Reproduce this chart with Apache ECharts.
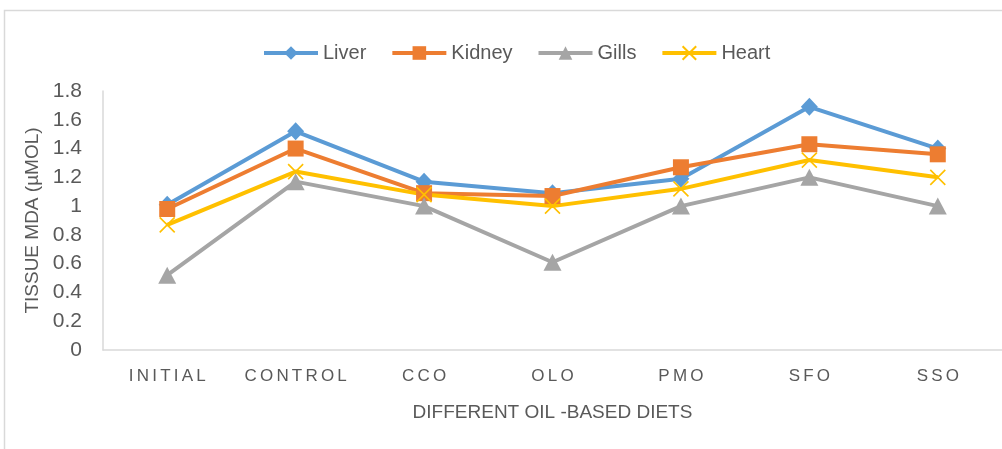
<!DOCTYPE html>
<html>
<head>
<meta charset="utf-8">
<script src="https://cdn.jsdelivr.net/npm/echarts@6/dist/echarts.min.js"></script>
<style>
html,body{margin:0;padding:0;background:#fff;}
#chart{width:1002px;height:449px;}
</style>
</head>
<body>
<div id="chart"></div>
<script>
const categories = ['INITIAL', 'CONTROL', 'CCO', 'OLO', 'PMO', 'SFO', 'SSO'];
const liver  = [1.01, 1.52, 1.17, 1.09, 1.19, 1.69, 1.40];
const kidney = [0.98, 1.40, 1.09, 1.07, 1.27, 1.43, 1.36];
const gills  = [0.52, 1.17, 1.00, 0.61, 1.00, 1.20, 1.00];
const heart  = [0.87, 1.24, 1.08, 1.00, 1.12, 1.32, 1.20];
const yTicks = { min: 0, max: 1.8, interval: 0.2 };

const font = 'Liberation Sans';
const grey = '#595959';

function letterSpaced(v) {
  return v.split('').map(c => '{c|' + c + '}').join('');
}

const chart = echarts.init(document.getElementById('chart'));
const mk = (name, data, color, symbol, size, extra) => Object.assign({
  name, type: 'line', data,
  symbol, symbolSize: size,
  lineStyle: { color, width: 4 },
  itemStyle: { color },
  emphasis: { disabled: true },
  animation: false
}, extra || {});

chart.setOption({
  animation: false,
  graphic: [{
    type: 'rect', silent: true,
    shape: { x: 4.5, y: 10.5, width: 1100, height: 600 },
    style: { fill: 'none', stroke: '#d9d9d9', lineWidth: 1.5 }
  }],
  legend: {
    top: 38, left: 257,
    itemWidth: 54, itemHeight: 17, itemGap: 24,
    lineStyle: { width: 4 },
    textStyle: { fontFamily: font, fontSize: 20, color: grey },
    data: ['Liver', 'Kidney', 'Gills', 'Heart']
  },
  grid: { left: 103, top: 91, bottom: 99, width: 903 },
  xAxis: {
    type: 'category', data: categories, boundaryGap: true,
    name: 'DIFFERENT OIL -BASED DIETS', nameLocation: 'middle', nameGap: 53,
    nameTextStyle: { fontFamily: font, fontSize: 19, color: grey },
    axisLine: { lineStyle: { color: '#d9d9d9', width: 1.5 } },
    axisTick: { show: false },
    axisLabel: {
      interval: 0, margin: 18, formatter: letterSpaced,
      rich: { c: { fontFamily: font, fontSize: 17, color: grey, padding: [0, 1.6] } }
    }
  },
  yAxis: {
    type: 'value', min: yTicks.min, max: yTicks.max, interval: yTicks.interval,
    name: 'TISSUE MDA (µMOL)', nameLocation: 'middle', nameGap: 61, nameRotate: 90,
    nameTextStyle: { fontFamily: font, fontSize: 19, color: grey },
    axisLine: { show: true, lineStyle: { color: '#d9d9d9', width: 1.5 } },
    axisTick: { show: false },
    splitLine: { show: false },
    axisLabel: { margin: 21, fontFamily: font, fontSize: 21, color: grey }
  },
  series: [
    mk('Liver', liver, '#5B9BD5', 'diamond', [17, 18]),
    mk('Kidney', kidney, '#ED7D31', 'rect', 16),
    mk('Gills', gills, '#A5A5A5', 'triangle', [18, 17]),
    mk('Heart', heart, '#FFC000', 'path://M0,0L10,10M10,0L0,10', 15, {
      itemStyle: { color: '#FFC000', borderColor: '#FFC000', borderWidth: 1.6 }
    })
  ]
});
</script>
</body>
</html>
